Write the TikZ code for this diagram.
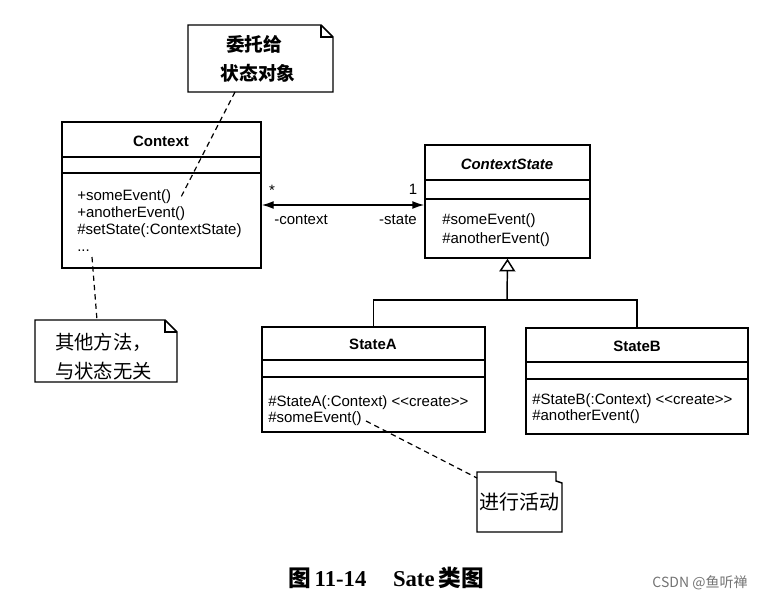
\documentclass[tikz,border=0pt]{standalone}
\usepackage{fontspec}
\setmainfont{Liberation Sans}
\newfontfamily\cjk{Noto Sans CJK SC}
\newfontfamily\serifc{Liberation Serif}
\usetikzlibrary{arrows.meta,fit,calc}
\tikzset{
  boxline/.style={line width=1.1pt},
  clsbox/.style={draw, boxline, inner sep=0pt},
  meth/.style={font=\fontsize{11.25}{13}\selectfont, inner sep=0pt, anchor=base west},
  cname/.style={font=\bfseries\fontsize{11.25}{13}\selectfont, inner sep=0pt},
  lbl/.style={font=\fontsize{11.25}{13}\selectfont, inner sep=0pt},
  cjkt/.style={font=\cjk\fontsize{14.5}{16}\selectfont, inner sep=0pt},
  notelink/.style={line width=0.9pt, dash pattern=on 4pt off 3pt},
  hidden/.style={inner sep=0pt, outer sep=0pt}
}
\begin{document}
\begin{tikzpicture}[x=0.75pt,y=-0.75pt]
\useasboundingbox (0,0) rectangle (767,600);

% ---------- Context class ----------
\node[clsbox, fit={(62,122)(261,268)}] (context) {};
\draw[boxline] (context.west |- 0,157) -- (context.east |- 0,157);
\draw[boxline] (context.west |- 0,173) -- (context.east |- 0,173);
\node[cname] (ctxname) at (161,141) {Context};
\node[meth] (c1) at (77,200) {+someEvent()};
\node[meth] (c2) at (77,217) {+anotherEvent()};
\node[meth] (c3) at (77,234) {\#setState(:ContextState)};
\node[meth] (c4) at (77,251) {...};
\coordinate (c4end) at (92,257);

% ---------- ContextState class ----------
\node[clsbox, fit={(425,145)(590,258)}] (cstate) {};
\draw[boxline] (cstate.west |- 0,180) -- (cstate.east |- 0,180);
\draw[boxline] (cstate.west |- 0,199) -- (cstate.east |- 0,199);
\node[cname, font=\bfseries\itshape\fontsize{11.25}{13}\selectfont] (csname) at (507,164) {ContextState};
\node[meth] (s1) at (442,224) {\#someEvent()};
\node[meth] (s2) at (442,243) {\#anotherEvent()};

% ---------- StateA ----------
\node[clsbox, fit={(262,327)(485,432)}] (statea) {};
\draw[boxline] (statea.west |- 0,360) -- (statea.east |- 0,360);
\draw[boxline] (statea.west |- 0,377) -- (statea.east |- 0,377);
\node[cname] (saname) at (373,344) {StateA};
\node[meth] (a1) at (268,406) {\#StateA(:Context) <{}<create>{}>};
\node[meth] (a2) at (268,422) {\#someEvent()};
\coordinate (a2end) at (366,421);

% ---------- StateB ----------
\node[clsbox, fit={(526,328)(748,434)}] (stateb) {};
\draw[boxline] (stateb.west |- 0,362) -- (stateb.east |- 0,362);
\draw[boxline] (stateb.west |- 0,379) -- (stateb.east |- 0,379);
\node[cname] (sbname) at (637,346) {StateB};
\node[meth] (b1) at (532,404) {\#StateB(:Context) <{}<create>{}>};
\node[meth] (b2) at (532,420) {\#anotherEvent()};

% ---------- Association ----------
\draw[boxline, {Latex[length=9pt,width=6pt]}-{Latex[length=9pt,width=6pt]}] (context.east |- 0,205) -- (cstate.west |- 0,205);
\node[lbl] (mstar) at (272,190) {*};
\node[lbl] (mone) at (413,189) {1};
\node[lbl] (rctx) at (301,220) {-context};
\node[lbl] (rst) at (398,220) {-state};

% ---------- Generalization ----------
\coordinate (junc) at (507,300);
\draw[boxline] (statea.north) |- (junc) -| (stateb.north);
\draw[boxline, -{Triangle[open, length=9.5pt, width=12pt, line width=1.1pt]}] (junc) -- (cstate.south);

% ---------- Note 1 ----------
\node[hidden, fit={(188,25)(333,92)}] (note1) {};
\draw[boxline] (note1.south west) -- (note1.north west) -- ($(note1.north east)+(-12,0)$) -- ($(note1.north east)+(0,12)$) -- (note1.south east) -- cycle;
\draw[line width=0.9pt] ($(note1.north east)+(-12,0)$) -- ($(note1.north east)+(-12,12)$) -- ($(note1.north east)+(0,12)$);
\node[cjkt, font=\cjk\bfseries\fontsize{14}{16}\selectfont] (n1a) at (254,44) {委托给};
\node[cjkt, font=\cjk\bfseries\fontsize{14}{16}\selectfont] (n1b) at (258,73) {状态对象};
\coordinate (n1foot) at (235,92);
\coordinate (c1end) at (180,199);
\draw[notelink] (n1foot) -- (c1end);

% ---------- Note 2 ----------
\node[hidden, fit={(35,320)(177,382)}] (note2) {};
\draw[boxline] (note2.south west) -- (note2.north west) -- ($(note2.north east)+(-12,0)$) -- ($(note2.north east)+(0,12)$) -- (note2.south east) -- cycle;
\draw[line width=0.9pt] ($(note2.north east)+(-12,0)$) -- ($(note2.north east)+(-12,12)$) -- ($(note2.north east)+(0,12)$);
\node[cjkt, anchor=west] (n2a) at (55,342) {其他方法，};
\node[cjkt, anchor=west] (n2b) at (55,371) {与状态无关};
\coordinate (n2top) at (97,320);
\draw[notelink] (c4end) -- (n2top);

% ---------- Note 3 ----------
\node[hidden, fit={(477,472)(562,532)}] (note3) {};
\draw[boxline] (note3.south west) -- (note3.north west) -- ($(note3.north east)+(-6,0)$) -- ($(note3.north east)+(-6,9)$) -- ($(note3.north east)+(0,11)$) -- (note3.south east) -- cycle;
\node[cjkt, font=\cjk\fontsize{15}{17}\selectfont] (n3) at (519,502) {进行活动};
\coordinate (n3in) at (477,478);
\draw[notelink] (a2end) -- (n3in);

% ---------- Caption ----------
\node[inner sep=0pt, font=\fontsize{17}{20}\selectfont] (caption) at (386,578)
  {{\cjk\bfseries 图}\,{\serifc\bfseries 11-14}\hspace{20pt}{\serifc\bfseries Sate}\,{\cjk\bfseries 类图}};
\node[inner sep=0pt, font=\cjk\fontsize{10.5}{12}\selectfont, text=black!55] (wm) at (700,583) {CSDN @鱼听禅};
\end{tikzpicture}
\end{document}
